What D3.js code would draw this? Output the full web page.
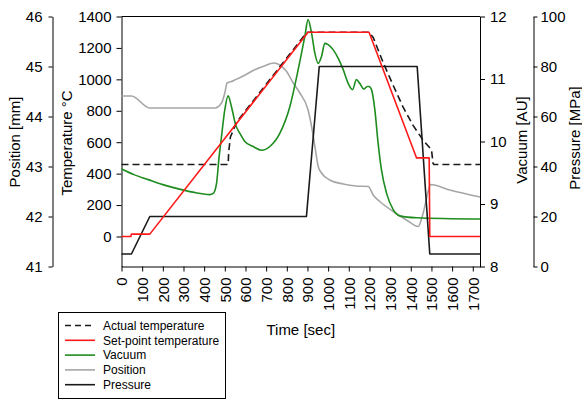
<!DOCTYPE html>
<html>
<head>
<meta charset="utf-8">
<script src="https://cdn.jsdelivr.net/npm/d3@7.9.0/dist/d3.min.js"></script>
<style>
  body { margin: 0; background: #fff; }
  svg { font-family: "Liberation Sans", Arial, sans-serif; }
  .axis path, .axis line { stroke: #000; }
  .axis text { font-size: 15px; fill: #000; font-family: "Liberation Sans", Arial, sans-serif; }
</style>
</head>
<body>
<svg width="582" height="400"></svg>
<script>
// ---- data ----
const xTicks = d3.range(0, 1800, 100);

const setTime = [0, 45, 48, 137, 903, 1198, 1428, 1489, 1492, 1735];
const setTemp = [0, 0, 15, 15, 1300, 1300, 500, 500, 0, 0];

const actTime = [0, 516, 519, 527, 540, 557, 895, 903, 1198, 1218, 1266, 1315, 1363, 1411, 1460, 1500, 1508, 1512, 1735];
const actTemp = [458, 458, 540, 633, 672, 728, 1296, 1300, 1300, 1267, 1108, 961, 823, 707, 612, 553, 465, 458, 458];

const vacTime = [0, 60, 129, 200, 290, 360, 427, 444, 460, 471, 484, 500, 516, 532, 552, 573, 597, 637, 678, 718, 766, 815, 855, 887, 903, 920, 936, 952, 968, 984, 1000, 1024, 1049, 1073, 1097, 1118, 1137, 1153, 1173, 1189, 1198, 1210, 1226, 1242, 1258, 1283, 1315, 1347, 1428, 1735];
const vacVal = [9.56, 9.47, 9.39, 9.31, 9.23, 9.18, 9.15, 9.17, 9.33, 9.71, 10.08, 10.51, 10.73, 10.56, 10.27, 10.13, 10.0, 9.92, 9.86, 9.92, 10.13, 10.56, 11.15, 11.68, 11.95, 11.73, 11.41, 11.25, 11.36, 11.57, 11.55, 11.47, 11.33, 11.15, 10.93, 10.83, 10.99, 10.93, 10.84, 10.88, 10.88, 10.83, 10.51, 9.97, 9.55, 9.17, 8.91, 8.81, 8.78, 8.76];

const posTime = [0, 48, 137, 452, 484, 500, 511, 532, 548, 589, 637, 685, 739, 766, 799, 831, 863, 903, 920, 936, 952, 968, 1008, 1073, 1137, 1194, 1218, 1250, 1315, 1379, 1436, 1460, 1484, 1495, 1589, 1735];
const posVal = [44.41, 44.41, 44.17, 44.17, 44.27, 44.47, 44.67, 44.70, 44.73, 44.81, 44.92, 45.0, 45.07, 45.03, 44.90, 44.67, 44.47, 44.13, 43.80, 43.40, 43.00, 42.87, 42.73, 42.65, 42.61, 42.60, 42.43, 42.30, 42.10, 41.93, 41.80, 42.07, 42.50, 42.64, 42.53, 42.39];

const presTime = [0, 48, 137, 895, 957, 1431, 1492, 1735];
const presVal = [5, 5, 20, 20, 80, 80, 5, 5];

const legendNames = ['Actual temperature', 'Set-point temperature', 'Vacuum', 'Position', 'Pressure'];
const colors = { act: '#1a1a1a', set: '#ff1a1a', vac: '#1e8c1e', pos: '#a6a6a6', pres: '#1a1a1a' };

// ---- layout ----
const svg = d3.select('svg');
const plotL = 121.5, plotR = 480, plotT = 16.5, plotB = 266.5;

const x = d3.scaleLinear().domain([0, 1735]).range([plotL, plotR]);
const yTemp = d3.scaleLinear().domain([-191, 1400]).range([plotB, plotT]);
const yPos = d3.scaleLinear().domain([41, 46]).range([plotB, plotT]);
const yVac = d3.scaleLinear().domain([8, 12]).range([plotB, plotT]);
const yPres = d3.scaleLinear().domain([0, 100]).range([plotB, plotT]);
const fmt = d3.format('d');

// frame top
svg.append('line').attr('x1', plotL).attr('x2', plotR).attr('y1', plotT).attr('y2', plotT).attr('stroke', '#000');

// x axis
const gx = svg.append('g').attr('class', 'axis').attr('transform', `translate(0,${plotB})`)
  .call(d3.axisBottom(x).tickValues(xTicks).tickFormat(fmt).tickSize(5).tickSizeOuter(0));
gx.selectAll('text')
  .attr('transform', 'rotate(-90)')
  .attr('text-anchor', 'end')
  .attr('x', -11).attr('y', 0).attr('dy', '0.35em');

// temperature axis
svg.append('g').attr('class', 'axis').attr('transform', `translate(${plotL},0)`)
  .call(d3.axisLeft(yTemp).tickValues(d3.range(0, 1401, 200)).tickFormat(fmt).tickSize(5).tickPadding(5).tickSizeOuter(0));
// position axis
svg.append('g').attr('class', 'axis').attr('transform', 'translate(52.5,0)')
  .call(d3.axisLeft(yPos).ticks(5).tickFormat(fmt).tickSize(4).tickPadding(6).tickSizeOuter(0));
// vacuum axis
svg.append('g').attr('class', 'axis').attr('transform', `translate(${plotR},0)`)
  .call(d3.axisRight(yVac).ticks(4).tickFormat(fmt).tickSize(5).tickPadding(5).tickSizeOuter(0));
// pressure axis
svg.append('g').attr('class', 'axis').attr('transform', 'translate(533.5,0)')
  .call(d3.axisRight(yPres).ticks(5).tickFormat(fmt).tickSize(4).tickPadding(3).tickSizeOuter(0));

// axis titles
function vTitle(txt, cx, cy) {
  svg.append('text').attr('transform', `translate(${cx},${cy}) rotate(-90)`)
    .attr('text-anchor', 'middle').attr('dy', '0.35em')
    .attr('font-size', 15).text(txt);
}
vTitle('Position [mm]', 15, 142);
vTitle('Temperature °C', 67, 143);
vTitle('Vacuum [AU]', 522, 140);
vTitle('Pressure [MPa]', 575, 138);
svg.append('text').attr('x', (plotL + plotR) / 2).attr('y', 335)
  .attr('text-anchor', 'middle').attr('font-size', 15).text('Time [sec]');

// ---- series ----
const zip = (a, b) => a.map((t, i) => [t, b[i]]);
function draw(pts, yScale, color, curve, dash) {
  const line = d3.line().x(d => x(d[0])).y(d => yScale(d[1])).curve(curve);
  const p = svg.append('path').attr('d', line(pts)).attr('fill', 'none')
    .attr('stroke', color).attr('stroke-width', 1.6).attr('stroke-linejoin', 'round');
  if (dash) p.attr('stroke-dasharray', dash);
}
draw(zip(posTime, posVal), yPos, colors.pos, d3.curveMonotoneX);
draw(zip(vacTime, vacVal), yVac, colors.vac, d3.curveMonotoneX);
draw(zip(presTime, presVal), yPres, colors.pres, d3.curveLinear);
draw(zip(actTime, actTemp), yTemp, colors.act, d3.curveLinear, '7,4');
draw(zip(setTime, setTemp), yTemp, colors.set, d3.curveLinear);

// ---- legend ----
svg.append('rect').attr('x', 58.5).attr('y', 312.5).attr('width', 167).attr('height', 86)
  .attr('fill', '#fff').attr('stroke', '#000');
const legendKeys = ['act', 'set', 'vac', 'pos', 'pres'];
legendNames.forEach((name, i) => {
  const yy = 325.5 + i * 14.8;
  const l = svg.append('line').attr('x1', 65).attr('x2', 95).attr('y1', yy).attr('y2', yy)
    .attr('stroke', colors[legendKeys[i]]).attr('stroke-width', 1.6);
  if (i === 0) l.attr('stroke-dasharray', '6,4');
  svg.append('text').attr('x', 103).attr('y', yy).attr('dy', '0.35em')
    .attr('font-size', 12).text(name);
});
</script>
</body>
</html>
